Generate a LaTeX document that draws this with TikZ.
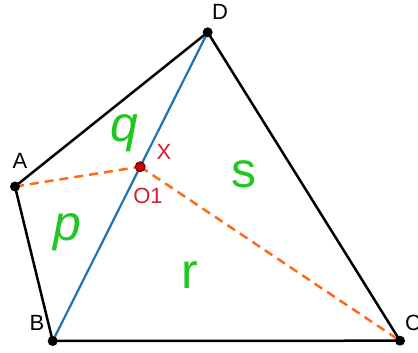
\documentclass[tikz,border=0pt]{standalone}
\usepackage{fontspec}
\setmainfont{Liberation Sans}
\usetikzlibrary{calc}
\definecolor{lgreen}{RGB}{30,200,30}
\definecolor{lred}{RGB}{210,30,50}
\definecolor{lorange}{RGB}{255,106,20}
\definecolor{lblue}{RGB}{30,115,175}
\definecolor{dotred}{RGB}{200,0,0}
\tikzset{
  edge/.style={line width=2.5pt, black, line cap=round},
  diag/.style={line width=2.2pt, lblue},
  helper/.style={line width=2.5pt, lorange, dash pattern=on 9pt off 6pt},
  vlabel/.style={inner sep=0pt, anchor=base, font=\fontsize{22}{22}\selectfont},
  rlabel/.style={inner sep=0pt, anchor=base, text=lred, font=\fontsize{22}{22}\selectfont},
  region/.style={inner sep=0pt, anchor=base, text=lgreen, font=\fontsize{50}{50}\selectfont},
}
\begin{document}
\begin{tikzpicture}[x=1pt,y=-1pt]
\useasboundingbox (0,0) rectangle (418,353);
\coordinate (A) at (15,186.5);
\coordinate (B) at (52.7,341);
\coordinate (C) at (400,340.7);
\coordinate (D) at (207.7,32.3);
\coordinate (O) at ($(B)!0.5646!(D)$);
% sides
\draw[edge] (A) -- (D) -- (C) -- (B) -- cycle;
% diagonal
\draw[diag] (B) -- (D);
% dashed helpers
\draw[helper] (A) -- (O);
\draw[helper] (O) -- (C);
% points
\foreach \p in {A,B,C,D} \fill[black] (\p) circle (5pt);
\filldraw[fill=dotred, draw=black!70!red, line width=0.8pt] (O) circle (5pt);
% vertex labels
\node[vlabel] (lA) at (20,168) {A};
\node[vlabel] (lB) at (37,330) {B};
\node[vlabel] (lC) at (413,330) {C};
\node[vlabel] (lD) at (220,20) {D};
\node[rlabel] (lX) at (164,159) {X};
\node[rlabel] (lO) at (148,203) {O1};
% region labels
\node[region] (q) at (124,142) {\itshape q};
\node[region] (p) at (67,240) {\itshape p};
\node[region] (s) at (244,187) {s};
\node[region] (r) at (190,288) {r};
\end{tikzpicture}
\end{document}
